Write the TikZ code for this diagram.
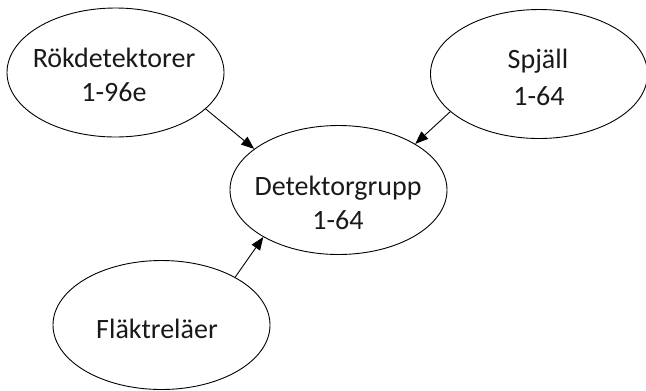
\documentclass[tikz,border=0pt]{standalone}
\usepackage{fontspec}
\setmainfont{Carlito}
\usetikzlibrary{shapes.geometric,arrows.meta}
\begin{document}
\begin{tikzpicture}[x=1bp,y=-1bp,
  oval/.style={draw=black,line width=0.9bp,ellipse,minimum width=217bp,minimum height=129bp,inner sep=0pt},
  lbl/.style={anchor=base,inner sep=0pt,font=\fontsize{28bp}{34bp}\selectfont,text=black!90},
  link/.style={draw=black,line width=0.9bp,-{Triangle[length=13bp,width=10bp]}}]
\useasboundingbox (0,0) rectangle (646,390);
\node[oval] (rok) at (115.5,72.5) {};
\node[oval] (spj) at (539,74) {};
\node[oval] (det) at (338.5,190) {};
\node[oval] (fla) at (161.5,325) {};
\node[lbl] (rokA) at (114,67) {Rökdetektorer};
\node[lbl] (rokB) at (114,101) {1-96e};
\node[lbl] (spjA) at (538,68) {Spjäll};
\node[lbl] (spjB) at (539,105) {1-64};
\node[lbl] (detA) at (338,195) {Detektorgrupp};
\node[lbl] (detB) at (338,229) {1-64};
\node[lbl] (flaA) at (157,338) {Fläktreläer};
\draw[link] (rok.-22) -- (det.154.6);
\draw[link] (spj.-157.6) -- (det.31.2);
\draw[link] (fla.33.1) -- (det.-148.6);
\end{tikzpicture}
\end{document}
